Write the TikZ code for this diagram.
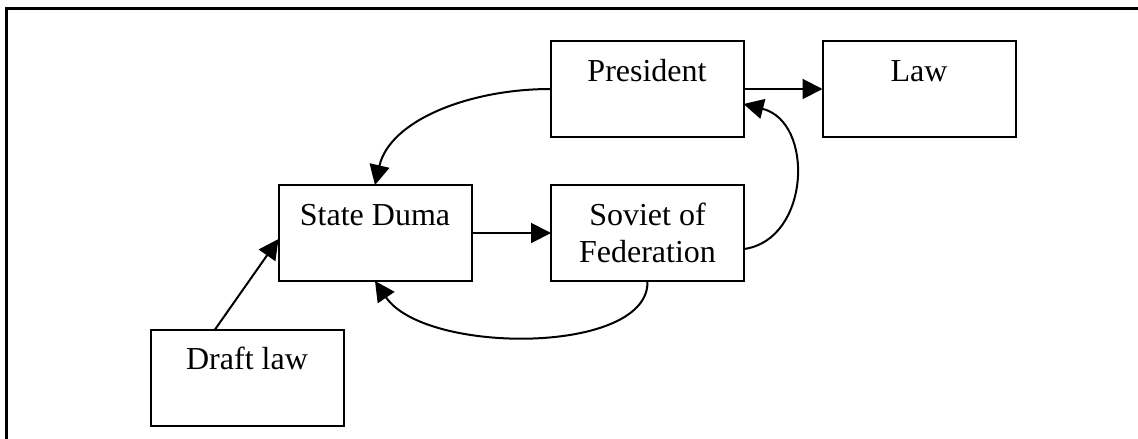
\documentclass[tikz,border=0pt]{standalone}
\usepackage{fontspec}
\setmainfont{Liberation Serif}
\usetikzlibrary{arrows.meta}
\tikzset{
  boxnode/.style={draw=black, line width=2pt, minimum width=193pt, minimum height=96pt, inner sep=0pt, outer sep=0pt},
  lbl/.style={anchor=base, align=center, inner sep=0pt, font=\fontsize{32}{37}\selectfont},
  conn/.style={line width=2pt, -{Triangle[length=20pt,width=20pt]}},
  frameline/.style={line width=2.8pt}
}
\begin{document}
\begin{tikzpicture}[x=1pt,y=-1pt]
\useasboundingbox (0,0) rectangle (1138,439);
% outer frame (cut off at right and bottom)
\coordinate (fbl) at (6.5,445);
\coordinate (ftl) at (6.5,8.5);
\coordinate (ftr) at (1145,8.5);
\draw[frameline] (fbl) -- (ftl) -- (ftr);
% boxes
\node[boxnode] (dl) at (247,377.5) {};
\node[boxnode] (sd) at (375,233) {};
\node[boxnode] (sov) at (647.5,233) {};
\node[boxnode] (pres) at (647,89) {};
\node[boxnode] (law) at (919,89) {};
% labels
\node[lbl] (tdl) at (247,369) {Draft law};
\node[lbl] (tsd) at (375,225) {State Duma};
\node[lbl] (tsov) at (647.5,262) {Soviet of\\Federation};
\node[lbl] (tpres) at (647,81) {President};
\node[lbl] (tlaw) at (919,81) {Law};
% connectors
\draw[conn] ([xshift=-32pt]dl.north) -- ([yshift=-6pt]sd.west);
\draw[conn] (sd.east) -- (sov.west);
\draw[conn] (pres.east) -- (law.west);
\draw[conn] (pres.west) .. controls (470,89) and (390,120) .. (sd.north);
\draw[conn] ([yshift=-16pt]sov.east) .. controls (810,240) and (815,122) .. ([yshift=-15pt]pres.east);
\draw[conn] (sov.south) .. controls (650,355) and (425,355) .. (sd.south);
\end{tikzpicture}
\end{document}
